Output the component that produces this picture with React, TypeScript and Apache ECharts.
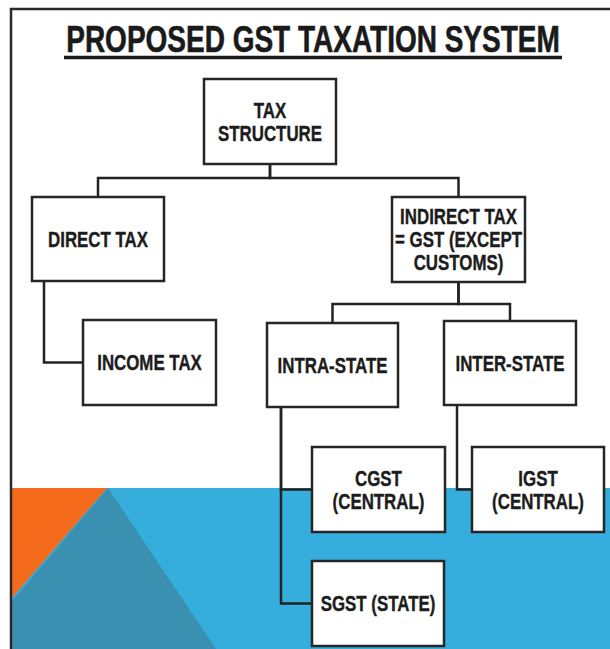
import React, { useEffect, useRef } from "react";
import * as echarts from "echarts";

// ---- content ----
const TITLE = "PROPOSED GST TAXATION SYSTEM";
const nodeLabels = [
  "TAX\nSTRUCTURE",
  "DIRECT TAX",
  "INDIRECT TAX\n= GST (EXCEPT\nCUSTOMS)",
  "INCOME TAX",
  "INTRA-STATE",
  "INTER-STATE",
  "CGST\n(CENTRAL)",
  "IGST\n(CENTRAL)",
  "SGST (STATE)",
];
const nodeParents = [-1, 0, 0, 1, 2, 2, 4, 5, 4];
const linkKinds = ["", "bus", "bus", "side", "bus", "bus", "side", "side", "side"];

// ---- layout (pixel units of the 610x649 canvas) ----
const W = 610;
const H = 649;
const BOXES: number[][] = [
  [204, 79, 336, 164],
  [32, 197, 164, 281],
  [392, 197, 525, 282],
  [83, 320, 216, 405],
  [267, 323, 398, 407],
  [444, 321, 576, 405],
  [312, 447, 445, 532],
  [472, 447, 604, 532],
  [312, 561, 444, 646],
];
const BUS_Y: Record<number, number> = { 0: 178, 2: 304 };
const SIDE_INSET: Record<number, number> = { 1: 12, 4: 14, 5: 13 };
const BG_SHAPES: { pts: number[][]; color: string }[] = [
  { pts: [[11, 488], [W, 488], [W, H], [11, H]], color: "#36aedd" },
  { pts: [[108, 488], [216, H], [11, H], [11, 602]], color: "#3a90b1" },
  { pts: [[11, 488], [107, 488], [11, 599]], color: "#f46b1c" },
];

const FONT = '"Liberation Sans", Arial, Helvetica, sans-serif';
const INK = "#222222";

export default function App() {
  const ref = useRef<HTMLDivElement>(null);
  useEffect(() => {
    if (!ref.current) return;
    const chart = echarts.init(ref.current, null, { renderer: "svg" });

    const linkData = nodeParents
      .map((p, i) => ({ p, i }))
      .filter((d) => d.p >= 0)
      .map((d) => [d.i, d.p]);

    const option: any = {
      animation: false,
      grid: { left: 0, right: 0, top: 0, bottom: 0 },
      xAxis: { type: "value", min: 0, max: W, show: false },
      yAxis: { type: "value", min: 0, max: H, inverse: true, show: false },
      graphic: [
        {
          type: "text",
          x: 313,
          y: 39,
          scaleX: 0.757,
          z: 100,
          style: {
            text: TITLE,
            fontSize: 37,
            fontWeight: "bold",
            fontFamily: FONT,
            fill: "#1a1a1a",
            stroke: "#1a1a1a",
            lineWidth: 0.6,
            align: "center",
            verticalAlign: "middle",
          },
        },
        {
          type: "line",
          z: 100,
          shape: { x1: 64, y1: 57.5, x2: 562, y2: 57.5 },
          style: { stroke: "#1a1a1a", lineWidth: 3.5 },
        },
        {
          type: "line",
          z: 100,
          shape: { x1: 10, y1: 9, x2: W, y2: 9 },
          style: { stroke: "#2a2a2a", lineWidth: 2.5 },
        },
        {
          type: "line",
          z: 100,
          shape: { x1: 11, y1: 8, x2: 11, y2: H },
          style: { stroke: "#2a2a2a", lineWidth: 2.5 },
        },
      ],
      series: [
        {
          type: "custom",
          name: "background",
          coordinateSystem: "cartesian2d",
          clip: false,
          silent: true,
          z: 1,
          data: BG_SHAPES.map((_, i) => [i, 0]),
          renderItem: (params: any, api: any) => {
            const s = BG_SHAPES[params.dataIndex];
            return {
              type: "polygon",
              shape: { points: s.pts.map((p) => api.coord(p)) },
              style: { fill: s.color },
            };
          },
        },
        {
          type: "custom",
          name: "links",
          coordinateSystem: "cartesian2d",
          clip: false,
          silent: true,
          z: 2,
          data: linkData,
          renderItem: (params: any, api: any) => {
            const [c, p] = linkData[params.dataIndex];
            const pb = BOXES[p];
            const cb = BOXES[c];
            let pts: number[][];
            if (linkKinds[c] === "bus") {
              const pcx = (pb[0] + pb[2]) / 2;
              const ccx = (cb[0] + cb[2]) / 2;
              const by = BUS_Y[p];
              pts = [[pcx, pb[3]], [pcx, by], [ccx, by], [ccx, cb[1]]];
            } else {
              const sx = pb[0] + SIDE_INSET[p];
              const my = (cb[1] + cb[3]) / 2;
              pts = [[sx, pb[3]], [sx, my], [cb[0], my]];
            }
            return {
              type: "polyline",
              shape: { points: pts.map((q) => api.coord(q)) },
              style: { stroke: INK, lineWidth: 2.5, fill: "none" },
            };
          },
        },
        {
          type: "custom",
          name: "boxes",
          coordinateSystem: "cartesian2d",
          clip: false,
          silent: true,
          z: 3,
          data: nodeLabels.map((_, i) => [i, 0]),
          renderItem: (params: any, api: any) => {
            const i = params.dataIndex;
            const b = BOXES[i];
            const p0 = api.coord([b[0], b[1]]);
            const p1 = api.coord([b[2], b[3]]);
            return {
              type: "group",
              children: [
                {
                  type: "rect",
                  shape: { x: p0[0], y: p0[1], width: p1[0] - p0[0], height: p1[1] - p0[1] },
                  style: { fill: "#ffffff", stroke: "#262626", lineWidth: 2.5 },
                },
                {
                  type: "text",
                  x: (p0[0] + p1[0]) / 2,
                  y: (p0[1] + p1[1]) / 2,
                  scaleX: 0.75,
                  style: {
                    text: nodeLabels[i],
                    x: 0,
                    y: 0,
                    align: "center",
                    verticalAlign: "middle",
                    fontSize: 22.5,
                    fontWeight: "bold",
                    fontFamily: FONT,
                    fill: "#1c1c1c",
                    stroke: "#1c1c1c",
                    lineWidth: 0.4,
                    lineHeight: 23,
                  },
                },
              ],
            };
          },
        },
      ],
    };
    chart.setOption(option);
    return () => chart.dispose();
  }, []);

  return (
    <div
      ref={ref}
      style={{ position: "fixed", left: 0, top: 0, width: W, height: H, background: "#ffffff" }}
    />
  );
}
